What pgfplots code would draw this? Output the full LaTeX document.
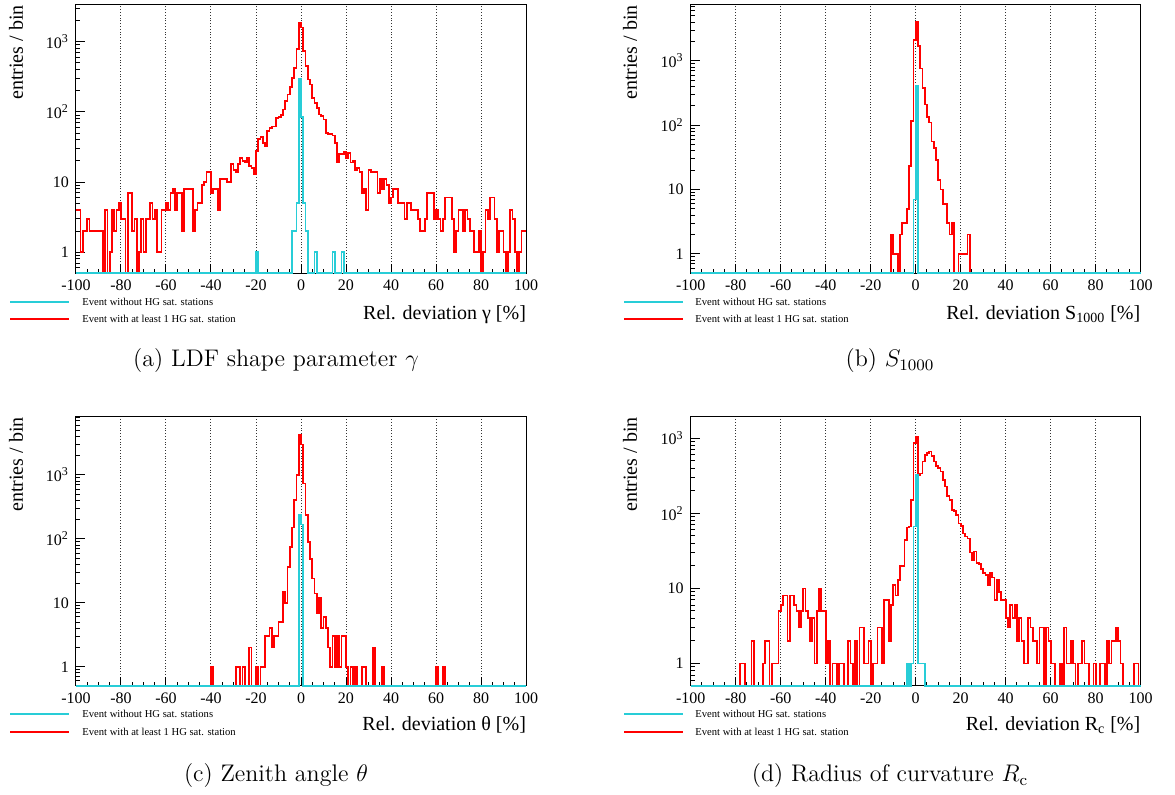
\documentclass[border=0pt]{standalone}
\usepackage{fontspec}
\usepackage{pgfplots}
\pgfplotsset{compat=1.18}
\newfontfamily\rootfont{Liberation Serif}
\definecolor{rootcyan}{RGB}{40,205,215}
\definecolor{rootred}{RGB}{255,0,0}

\pgfplotsset{
  every axis/.append style={
    scale only axis, width=225pt,
    xmin=-100, xmax=100, ymin=0.5,
    clip=false,
    axis line style={black, line width=0.5pt},
    tick pos=left, tick align=inside,
    major tick length=4.5pt, minor tick length=2.2pt,
    tick style={black, line width=0.5pt},
    xtick={-100,-80,...,100},
    xticklabels={-100,-80,-60,-40,-20,0,20,40,60,80,100},
    minor x tick num=3,
    xmajorgrids,
    major grid style={black!80, densely dotted, line width=0.5pt},
    ytick={1,10,100,1000},
    yticklabels={1,10,10\textsuperscript{2},10\textsuperscript{3}},
    minor ytick={0.6,0.7,0.8,0.9,2,3,4,5,6,7,8,9,20,30,40,50,60,70,80,90,200,300,400,500,600,700,800,900,2000,3000,4000,5000,6000,7000,8000,9000},
    tick label style={font=\rootfont\fontsize{8}{9}\selectfont},
  },
}
\tikzset{
  redline/.style={draw=rootred, line width=0.85pt},
  cyanline/.style={draw=rootcyan, line width=0.85pt},
  axlabel/.style={font=\rootfont\fontsize{10}{12}\selectfont, inner sep=0pt},
  legtext/.style={font=\rootfont\fontsize{5.3}{6}\selectfont, anchor=west, inner sep=0pt},
  captext/.style={font=\fontsize{12}{14}\selectfont, anchor=base},
}

\begin{document}
\begin{tikzpicture}
\path (0,0) rectangle (587.5pt,396pt);

% (a) LDF shape parameter
\begin{axis}[ymode=log, at={(38pt,259.35pt)}, anchor=south west, height=134.5pt, ymax=3420]
\addplot[const plot, no marks, redline] table[row sep=\\, x expr=\coordindex-100, y expr={max(\thisrow{n},0.5)}] {
n\\
4\\ 4\\ 1\\ 2\\ 2\\ 3\\ 2\\ 2\\ 2\\ 2\\
2\\ 2\\ 0\\ 4\\ 0\\ 1\\ 4\\ 2\\ 4\\ 5\\
3\\ 3\\ 0\\ 7\\ 7\\ 2\\ 3\\ 0\\ 1\\ 3\\
1\\ 3\\ 3\\ 5\\ 3\\ 4\\ 1\\ 1\\ 4\\ 4\\
5\\ 4\\ 7\\ 8\\ 4\\ 7\\ 7\\ 2\\ 8\\ 8\\
8\\ 8\\ 2\\ 4\\ 5\\ 5\\ 9\\ 10\\ 14\\ 14\\
7\\ 8\\ 8\\ 4\\ 11\\ 11\\ 11\\ 10\\ 10\\ 18\\
15\\ 14\\ 18\\ 22\\ 20\\ 19\\ 22\\ 17\\ 16\\ 13\\
28\\ 41\\ 44\\ 36\\ 32\\ 53\\ 59\\ 62\\ 62\\ 82\\
85\\ 91\\ 108\\ 142\\ 177\\ 226\\ 305\\ 425\\ 780\\ 1830\\
1590\\ 735\\ 450\\ 290\\ 246\\ 158\\ 134\\ 114\\ 92\\ 87\\
78\\ 50\\ 48\\ 48\\ 46\\ 36\\ 19\\ 25\\ 25\\ 27\\
22\\ 26\\ 19\\ 20\\ 15\\ 16\\ 14\\ 7\\ 8\\ 4\\
15\\ 14\\ 14\\ 14\\ 7\\ 11\\ 8\\ 11\\ 9\\ 5\\
6\\ 8\\ 8\\ 5\\ 5\\ 5\\ 3\\ 5\\ 5\\ 4\\
4\\ 4\\ 3\\ 2\\ 2\\ 3\\ 7\\ 7\\ 7\\ 3\\
4\\ 3\\ 2\\ 3\\ 6\\ 6\\ 6\\ 3\\ 1\\ 2\\
4\\ 4\\ 2\\ 4\\ 3\\ 2\\ 2\\ 1\\ 1\\ 2\\
0\\ 1\\ 4\\ 3\\ 6\\ 6\\ 3\\ 1\\ 2\\ 2\\
1\\ 0\\ 1\\ 4\\ 3\\ 1\\ 0\\ 1\\ 2\\ 2\\
2\\
};
\addplot[const plot, no marks, cyanline] table[row sep=\\, x=x, y expr={max(\thisrow{n},0.5)}] {
x n\\ -100 0\\ -20 1\\ -19 0\\ -4 2\\ -2 5\\ -1 300\\ 0 84\\ 1 5\\ 2 2\\ 3 0\\
6 1\\ 7 0\\ 14 1\\ 15 0\\ 18 1\\ 19 0\\ 100 0\\
};
\end{axis}

% (b) S1000
\begin{axis}[ymode=log, at={(345.35pt,259.35pt)}, anchor=south west, height=134.3pt, ymax=7480]
\addplot[const plot, no marks, redline] table[row sep=\\, x=x, y expr={max(\thisrow{n},0.5)}] {
x n\\ -100 0\\ -11 2\\ -10 1\\ -8 0\\ -7 2\\ -6 3\\ -4 5\\ -3 23\\ -2 115\\ -1 2100\\
0 4000\\ 1 1700\\ 2 760\\ 3 380\\ 4 210\\ 5 135\\ 6 110\\ 7 56\\ 8 44\\ 9 29\\
10 14\\ 11 10\\ 12 6\\ 14 3\\ 15 2\\ 16 3\\ 17 0\\ 19 1\\ 23 2\\ 24 0\\ 100 0\\
};
\addplot[const plot, no marks, cyanline] table[row sep=\\, x=x, y expr={max(\thisrow{n},0.5)}] {
x n\\ -100 0\\ -1 7\\ 0 410\\ 1 0\\ 100 0\\
};
\end{axis}

% (c) zenith angle
\begin{axis}[ymode=log, at={(38pt,53pt)}, anchor=south west, height=135pt, ymax=8330]
\addplot[const plot, no marks, redline] table[row sep=\\, x=x, y expr={max(\thisrow{n},0.5)}] {
x n\\ -100 0\\ -40 1\\ -39 0\\ -29 1\\ -27 0\\ -26 1\\ -25 0\\ -23 2\\ -22 0\\ -20 1\\ -19 0\\
-18 1\\ -16 3\\ -14 4\\ -13 2\\ -12 3\\ -10 5\\ -8 15\\ -7 10\\ -6 36\\ -5 75\\
-4 150\\ -3 400\\ -2 1000\\ -1 4300\\ 0 3000\\ 1 730\\ 2 235\\ 3 90\\ 4 49\\ 5 24\\
6 14\\ 7 7\\ 8 12\\ 9 4\\ 10 6\\ 11 4\\ 12 2\\ 13 1\\ 14 3\\ 15 1\\ 16 3\\ 17 1\\
18 3\\ 20 1\\ 21 0\\ 22 1\\ 23 0\\ 24 1\\ 25 0\\ 27 1\\ 29 0\\ 32 2\\ 33 0\\ 36 1\\
37 0\\ 60 1\\ 61 0\\ 63 1\\ 64 0\\ 100 0\\
};
\addplot[const plot, no marks, cyanline] table[row sep=\\, x=x, y expr={max(\thisrow{n},0.5)}] {
x n\\ -100 0\\ -1 240\\ 0 167\\ 1 0\\ 100 0\\
};
\end{axis}

% (d) radius of curvature
\begin{axis}[ymode=log, at={(345.35pt,53pt)}, anchor=south west, height=135pt, ymax=1980]
\addplot[const plot, no marks, redline] table[row sep=\\, x expr=\coordindex-100, y expr={max(\thisrow{n},0.5)}] {
n\\
0\\ 0\\ 0\\ 0\\ 0\\ 0\\ 0\\ 0\\ 0\\ 0\\
0\\ 0\\ 0\\ 0\\ 0\\ 0\\ 0\\ 0\\ 0\\ 0\\
0\\ 0\\ 1\\ 1\\ 0\\ 0\\ 0\\ 2\\ 0\\ 0\\
0\\ 0\\ 1\\ 2\\ 2\\ 0\\ 1\\ 1\\ 1\\ 5\\
6\\ 8\\ 8\\ 2\\ 8\\ 8\\ 6\\ 5\\ 3\\ 5\\
10\\ 5\\ 4\\ 2\\ 4\\ 1\\ 5\\ 10\\ 5\\ 5\\
1\\ 2\\ 0\\ 1\\ 1\\ 0\\ 1\\ 1\\ 0\\ 0\\
2\\ 1\\ 0\\ 2\\ 0\\ 3\\ 3\\ 1\\ 1\\ 2\\
0\\ 1\\ 1\\ 3\\ 3\\ 1\\ 7\\ 7\\ 2\\ 6\\
11\\ 8\\ 13\\ 20\\ 20\\ 44\\ 65\\ 67\\ 150\\ 860\\
1030\\ 325\\ 340\\ 490\\ 600\\ 630\\ 665\\ 580\\ 490\\ 430\\
400\\ 360\\ 280\\ 227\\ 170\\ 150\\ 110\\ 108\\ 95\\ 73\\
68\\ 54\\ 49\\ 46\\ 30\\ 24\\ 31\\ 22\\ 21\\ 18\\
16\\ 15\\ 11\\ 16\\ 14\\ 7\\ 13\\ 9\\ 7\\ 7\\
4\\ 3\\ 6\\ 4\\ 6\\ 2\\ 4\\ 2\\ 1\\ 1\\
4\\ 3\\ 2\\ 2\\ 1\\ 3\\ 3\\ 0\\ 3\\ 2\\
1\\ 1\\ 0\\ 0\\ 1\\ 0\\ 3\\ 1\\ 1\\ 2\\
1\\ 0\\ 1\\ 1\\ 2\\ 1\\ 1\\ 0\\ 0\\ 1\\
0\\ 0\\ 1\\ 1\\ 0\\ 2\\ 1\\ 2\\ 2\\ 3\\
2\\ 1\\ 0\\ 0\\ 0\\ 0\\ 0\\ 1\\ 1\\ 0\\
0\\
};
\addplot[const plot, no marks, cyanline] table[row sep=\\, x=x, y expr={max(\thisrow{n},0.5)}] {
x n\\ -100 0\\ -4 1\\ -3 0\\ -2 1\\ -1 67\\ 0 325\\ 1 1\\ 4 0\\ 100 0\\
};
\end{axis}

% axis titles
\node[axlabel, anchor=base east] at (263.15pt,236.25pt) {Rel. deviation γ [\%]};
\node[axlabel, anchor=base east] at (570.35pt,236.25pt) {Rel. deviation S\textsubscript{1000} [\%]};
\node[axlabel, anchor=base east] at (263.15pt,30.5pt) {Rel. deviation θ [\%]};
\node[axlabel, anchor=base east] at (570.35pt,30.5pt) {Rel. deviation R\textsubscript{c} [\%]};
\node[axlabel, rotate=90, anchor=east] at (8pt,393.5pt) {entries / bin};
\node[axlabel, rotate=90, anchor=east] at (315pt,393.5pt) {entries / bin};
\node[axlabel, rotate=90, anchor=east] at (8pt,187.5pt) {entries / bin};
\node[axlabel, rotate=90, anchor=east] at (315pt,187.5pt) {entries / bin};

% legends
\draw[cyanline] (5.15pt,245pt) -- (34.5pt,245pt);
\draw[redline] (5.15pt,236.35pt) -- (34.5pt,236.35pt);
\node[legtext] at (41pt,245pt) {Event without HG sat. stations};
\node[legtext] at (41pt,236.35pt) {Event with at least 1 HG sat. station};
\draw[cyanline] (312pt,245pt) -- (341.25pt,245pt);
\draw[redline] (312pt,236.35pt) -- (341.25pt,236.35pt);
\node[legtext] at (347.5pt,245pt) {Event without HG sat. stations};
\node[legtext] at (347.5pt,236.35pt) {Event with at least 1 HG sat. station};
\draw[cyanline] (5.15pt,39pt) -- (34.5pt,39pt);
\draw[redline] (5.15pt,30.15pt) -- (34.5pt,30.15pt);
\node[legtext] at (41pt,39pt) {Event without HG sat. stations};
\node[legtext] at (41pt,30.15pt) {Event with at least 1 HG sat. station};
\draw[cyanline] (312pt,39pt) -- (341.25pt,39pt);
\draw[redline] (312pt,30.15pt) -- (341.25pt,30.15pt);
\node[legtext] at (347.5pt,39pt) {Event without HG sat. stations};
\node[legtext] at (347.5pt,30.15pt) {Event with at least 1 HG sat. station};

% captions
\node[captext] at (138pt,212.65pt) {(a) LDF shape parameter $\gamma$};
\node[captext] at (445pt,212.65pt) {(b) $S_{1000}$};
\node[captext] at (138pt,5pt) {(c) Zenith angle $\theta$};
\node[captext] at (445pt,5pt) {(d) Radius of curvature $R_{\mathrm{c}}$};
\end{tikzpicture}
\end{document}
